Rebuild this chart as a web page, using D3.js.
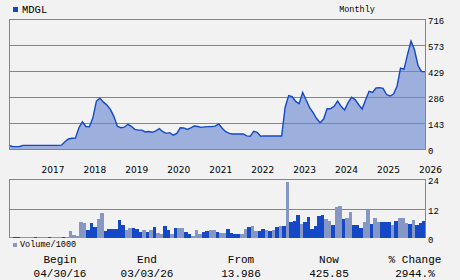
<!DOCTYPE html>
<html>
<head>
<meta charset="utf-8">
<script src="https://cdn.jsdelivr.net/npm/d3@7"></script>
<style>
  body { margin: 0; background: #f2f2f2; }
  svg { display: block; }
  .mono { font-family: "Liberation Mono", "DejaVu Sans Mono", monospace; fill: #000; }
  .yr { font-family: "DejaVu Sans", sans-serif; font-size: 9px; fill: #000; }
</style>
</head>
<body>
<div id="chart"></div>
<script>
// ---- data (monthly, Apr 2016 .. Mar 2026) ----
var ticker = "MDGL";
var period = "Monthly";

var closes = [
  20, 14, 13, 14, 20, 20, 20, 20, 20, 20, 20, 20, 20, 20, 20, 21,
  40, 55, 59, 60, 117, 150, 124, 122, 172, 264, 280, 258, 242, 218,
  180, 125, 117, 120, 136, 125, 108, 104, 104, 94, 96, 92, 100, 112,
  95, 86, 90, 76, 86, 117, 116, 108, 116, 127, 124, 119, 122, 123,
  123, 126, 138, 114, 95, 86, 83, 83, 83, 83, 72, 70, 97, 92, 70,
  72, 72, 72, 72, 72, 72, 230, 294, 288, 262, 250, 312, 270, 228,
  200, 168, 145, 165, 222, 222, 235, 264, 235, 215, 255, 285, 272,
  245, 220, 270, 318, 312, 336, 338, 334, 300, 292, 303, 345, 445,
  440, 520, 595, 545, 460, 427, 426
];

// volume in thousands, per month
var volumes = [
  0.4, 0.3, 0.3, 0.3, 0.3, 0.5, 0.6, 0.3, 0.3, 0.3, 0.3, 0.3, 0.3, 0.4,
  0.6, 0.4, 0.3, 2.9, 1.2, 0.8, 6.5, 6.2, 3.3, 6.1, 4.5, 7.8, 10.2, 2.9,
  3.7, 3.7, 3.7, 7.4, 5.3, 3.3, 4.1, 4.1, 3.7, 2.5, 3.3, 2.5, 3.3, 4.5,
  2.0, 1.6, 4.9, 3.3, 1.6, 4.1, 4.1, 4.1, 2.5, 1.6, 0.8, 3.3, 1.6, 2.5,
  2.9, 3.3, 3.3, 2.5, 2.0, 2.0, 3.7, 2.0, 1.6, 1.6, 1.6, 3.7, 4.5, 4.9,
  2.9, 2.9, 3.7, 3.3, 2.9, 3.3, 4.5, 4.9, 4.9, 22.9, 6.5, 6.9, 9.4, 5.7,
  6.5, 8.6, 3.7, 4.9, 9.0, 9.4, 7.8, 6.9, 5.3, 12.7, 13.1, 7.8, 8.2, 10.6,
  5.3, 5.3, 4.1, 6.5, 11.4, 5.7, 8.2, 6.5, 6.5, 6.5, 6.5, 5.3, 6.9, 8.2,
  8.2, 6.1, 5.7, 7.4, 5.3, 6.1, 6.9
];
// 1 = dark bar, 0 = light bar
var volUp = [
  0, 1, 1, 0, 0, 0, 0, 1, 0, 0, 0, 1, 0, 0, 0, 1, 0, 0, 0, 0, 0, 0, 1, 1,
  1, 0, 0, 1, 1, 1, 1, 1, 1, 0, 0, 1, 1, 1, 0, 1, 0, 1, 0, 0, 1, 1, 0, 1,
  0, 0, 1, 1, 0, 0, 0, 1, 1, 0, 0, 1, 0, 0, 1, 1, 1, 1, 0, 0, 1, 0, 0, 1,
  1, 0, 1, 0, 1, 0, 1, 0, 1, 1, 1, 0, 1, 1, 1, 1, 1, 1, 0, 0, 1, 0, 0, 1,
  0, 0, 1, 1, 1, 0, 0, 1, 0, 0, 1, 1, 1, 0, 1, 0, 0, 0, 1, 0, 1, 1, 1
];

var priceTicks = [0, 143.2, 286.4, 429.6, 572.8, 716];
var priceTickLabels = ["0", "143", "286", "429", "573", "716"];
var volTicks = [0, 12, 24];
var yearLabels = ["2017", "2018", "2019", "2020", "2021", "2022", "2023", "2024", "2025", "2026"];
var firstJanIndex = 9; // Jan 2017 is the 10th month

var statHeads = ["Begin", "End", "From", "Now", "% Change"];
var statValues = ["04/30/16", "03/03/26", "13.986", "425.85", "2944.%"];

// ---- layout ----
var W = 460, H = 280;
var left = 9, right = 425;
var pTop = 19, pBottom = 149;
var vTop = 179, vBottom = 238;

var blue = "#1448c6", light = "#8697c3", grid = "#858585";

var svg = d3.select("#chart").append("svg")
  .attr("width", W).attr("height", H);

svg.append("rect").attr("width", W).attr("height", H).attr("fill", "#f2f2f2");

var x = d3.scaleLinear().domain([0, closes.length - 1]).range([left, right]);
var y = d3.scaleLinear().domain([0, 716]).range([pBottom, pTop]);

var xb = d3.scaleBand().domain(d3.range(volumes.length)).range([left, right + 1]).padding(0);
var yv = d3.scaleLinear().domain([0, 24]).range([vBottom, vTop]);

// header
svg.append("rect").attr("x", 13).attr("y", 7).attr("width", 5).attr("height", 5).attr("fill", blue);
svg.append("text").attr("class", "mono").attr("x", 22).attr("y", 13)
  .style("font-size", "10.5px").text(ticker);
svg.append("text").attr("class", "mono").attr("x", 357).attr("y", 12)
  .attr("text-anchor", "middle").style("font-size", "8.5px").text(period);

// price area + line
var area = d3.area()
  .x(function (d, i) { return x(i); })
  .y0(y(0))
  .y1(function (d) { return y(d); });

var line = d3.line()
  .x(function (d, i) { return x(i); })
  .y(function (d) { return y(d); });

svg.append("path").datum(closes)
  .attr("d", area)
  .attr("fill", "#9db0dd");

// price grid
svg.append("g").selectAll("line")
  .data(priceTicks)
  .enter().append("line")
  .attr("x1", left).attr("x2", right)
  .attr("y1", function (d) { return Math.round(y(d)) + 0.5; })
  .attr("y2", function (d) { return Math.round(y(d)) + 0.5; })
  .attr("stroke", grid).attr("stroke-width", 1);

svg.append("path").datum(closes)
  .attr("d", line)
  .attr("fill", "none")
  .attr("stroke", blue)
  .attr("stroke-width", 1.4);

svg.append("line").attr("x1", left + 0.5).attr("x2", left + 0.5)
  .attr("y1", pTop).attr("y2", pBottom + 1).attr("stroke", grid);
svg.append("line").attr("x1", right + 0.5).attr("x2", right + 0.5)
  .attr("y1", pTop).attr("y2", pBottom + 1).attr("stroke", grid);

svg.append("g").selectAll("text")
  .data(priceTicks)
  .enter().append("text")
  .attr("class", "mono")
  .attr("x", 428)
  .attr("y", function (d) { return y(d) + 5; })
  .style("font-size", "9px")
  .text(function (d, i) { return priceTickLabels[i]; });

// year labels
svg.append("g").selectAll("text")
  .data(yearLabels)
  .enter().append("text")
  .attr("class", "yr")
  .attr("x", function (d, i) { return x(firstJanIndex + i * 12) + 1; })
  .attr("y", 173)
  .text(function (d) { return d; });

// volume panel
svg.append("g").selectAll("line")
  .data(volTicks.slice(1))
  .enter().append("line")
  .attr("x1", left).attr("x2", right)
  .attr("y1", function (d) { return Math.round(yv(d)) + 0.5; })
  .attr("y2", function (d) { return Math.round(yv(d)) + 0.5; })
  .attr("stroke", grid);

svg.append("g").selectAll("rect")
  .data(volumes)
  .enter().append("rect")
  .attr("x", function (d, i) { return xb(i); })
  .attr("width", xb.bandwidth())
  .attr("y", function (d) { return yv(d); })
  .attr("height", function (d) { return yv(0) - yv(d); })
  .attr("fill", function (d, i) { return volUp[i] ? blue : light; })
  .attr("shape-rendering", "crispEdges");

svg.append("line").attr("x1", left + 0.5).attr("x2", left + 0.5)
  .attr("y1", vTop).attr("y2", vBottom).attr("stroke", grid);
svg.append("line").attr("x1", right + 0.5).attr("x2", right + 0.5)
  .attr("y1", vTop).attr("y2", vBottom).attr("stroke", grid);

svg.append("g").selectAll("text")
  .data(volTicks)
  .enter().append("text")
  .attr("class", "mono")
  .attr("x", 428)
  .attr("y", function (d) { return yv(d) + 5; })
  .style("font-size", "9px")
  .text(function (d) { return d; });

// legend
svg.append("rect").attr("x", 13).attr("y", 243).attr("width", 4).attr("height", 4).attr("fill", light);
svg.append("text").attr("class", "mono").attr("x", 20).attr("y", 247)
  .style("font-size", "8.5px").text("Volume/1000");

// stats
var statX = [60, 147, 241, 329, 415];
svg.append("g").selectAll("text")
  .data(statHeads)
  .enter().append("text")
  .attr("class", "mono")
  .attr("x", function (d, i) { return statX[i]; })
  .attr("y", 263)
  .attr("text-anchor", "middle")
  .style("font-size", "11px")
  .text(function (d) { return d; });

svg.append("g").selectAll("text")
  .data(statValues)
  .enter().append("text")
  .attr("class", "mono")
  .attr("x", function (d, i) { return statX[i]; })
  .attr("y", 277)
  .attr("text-anchor", "middle")
  .style("font-size", "11px")
  .text(function (d) { return d; });
</script>
</body>
</html>
